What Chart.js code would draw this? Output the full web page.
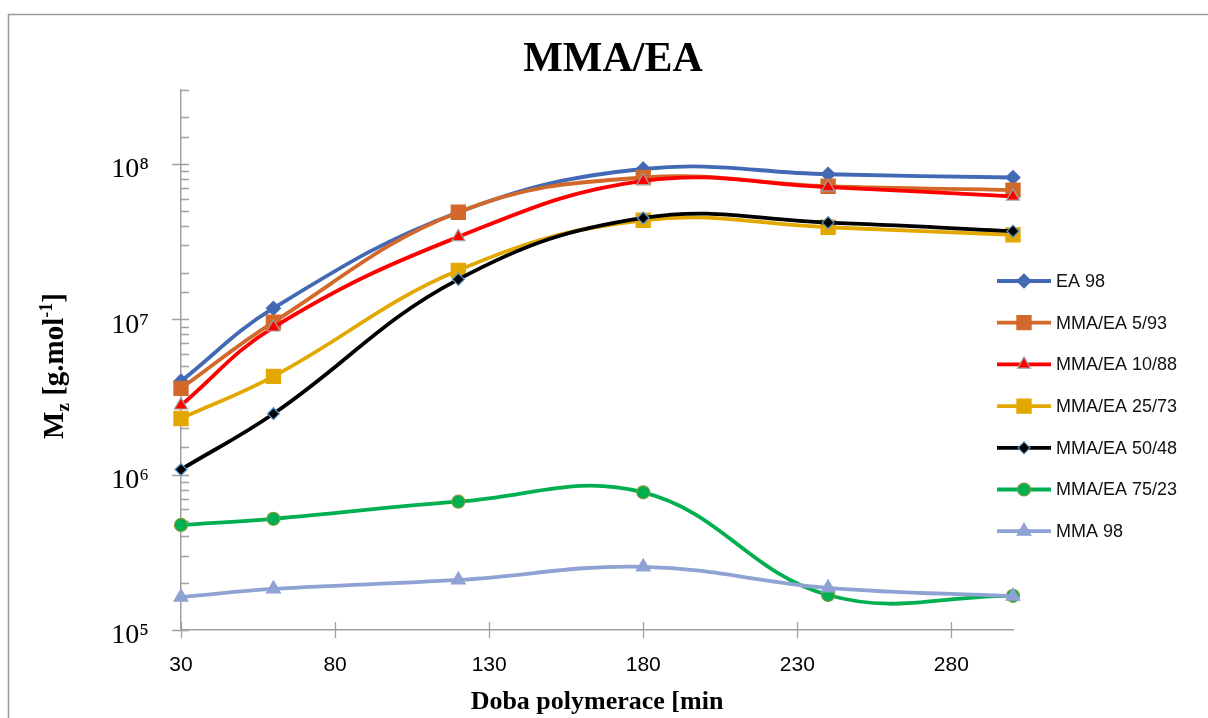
<!DOCTYPE html>
<html>
<head>
<meta charset="utf-8">
<script src="https://cdn.jsdelivr.net/npm/chart.js@4.4.0/dist/chart.umd.min.js"></script>
<style>
  html, body { margin: 0; padding: 0; background: #fff; }
  #wrap { width: 1208px; height: 718px; position: relative; }
</style>
</head>
<body>
<div id="wrap"><canvas id="grafico" width="1208" height="718"></canvas></div>
<script>
// Datos (Mz en g/mol)
const tiempos = [30, 60, 120, 180, 240, 300];
const ticksX = [30, 80, 130, 180, 230, 280];
const series = ['EA 98', 'MMA/EA 5/93', 'MMA/EA 10/88', 'MMA/EA 25/73', 'MMA/EA 50/48', 'MMA/EA 75/23', 'MMA 98'];
const ea98 = [4.0e6, 1.18e7, 4.9e7, 9.3e7, 8.6e7, 8.2e7];
const mmaEa5_93 = [3.6e6, 9.6e6, 4.9e7, 8.2e7, 7.2e7, 6.8e7];
const mmaEa10_88 = [2.8e6, 8.9e6, 3.4e7, 7.8e7, 7.1e7, 6.2e7];
const mmaEa25_73 = [2.3e6, 4.3e6, 2.07e7, 4.35e7, 3.92e7, 3.5e7];
const mmaEa50_48 = [1.08e6, 2.47e6, 1.81e7, 4.5e7, 4.2e7, 3.7e7];
const mmaEa75_23 = [4.75e5, 5.2e5, 6.7e5, 7.7e5, 1.68e5, 1.66e5];
const mma98 = [1.63e5, 1.84e5, 2.1e5, 2.55e5, 1.87e5, 1.65e5];

const valores = [ea98, mmaEa5_93, mmaEa10_88, mmaEa25_73, mmaEa50_48, mmaEa75_23, mma98];

// Estilo de cada serie
const estilos = [
  { color: '#4169B4', fondo: '#4169B4', borde: '#4169B4', punto: 'rectRot', radio: 7 },
  { color: '#D2692B', fondo: '#D2692B', borde: '#D2692B', punto: 'rect', radio: 10 },
  { color: '#FF0000', fondo: '#FF0000', borde: '#A0A0A0', punto: 'triangle', radio: 7.5 },
  { color: '#E3A800', fondo: '#E3A800', borde: '#E3A800', punto: 'rect', radio: 10 },
  { color: '#000000', fondo: '#000000', borde: '#5B9BD5', punto: 'rectRot', radio: 6 },
  { color: '#00B050', fondo: '#00B050', borde: '#7F9A3A', punto: 'circle', radio: 6.5 },
  { color: '#8FA2D4', fondo: '#8FA2D4', borde: '#8FA2D4', punto: 'triangle', radio: 8 }
];

const superindices = { '0': '\u2070', '1': '\u00B9', '2': '\u00B2', '3': '\u00B3', '4': '\u2074', '5': '\u2075', '6': '\u2076', '7': '\u2077', '8': '\u2078', '9': '\u2079' };

const datasets = series.map((nombre, i) => ({
  label: nombre,
  data: tiempos.map((t, j) => ({ x: t, y: valores[i][j] })),
  borderColor: estilos[i].color,
  borderWidth: 3.8,
  backgroundColor: estilos[i].fondo,
  pointStyle: estilos[i].punto,
  pointRadius: estilos[i].radio,
  pointBackgroundColor: estilos[i].fondo,
  pointBorderColor: estilos[i].borde,
  pointBorderWidth: 1.2,
  tension: 0.4,
  fill: false,
  clip: false,
  order: series.length - i
}));

// Marco exterior y titulo principal
const marco = {
  id: 'marco',
  beforeDraw(chart) {
    const ctx = chart.ctx;
    ctx.save();
    ctx.fillStyle = '#ffffff';
    ctx.fillRect(0, 0, chart.width, chart.height);
    ctx.strokeStyle = '#9a9a9a';
    ctx.lineWidth = 1.5;
    ctx.strokeRect(8.5, 14.5, 1400, 900);
    ctx.fillStyle = '#000';
    ctx.font = 'bold 42px "Liberation Serif", "Times New Roman", serif';
    ctx.textAlign = 'center';
    ctx.textBaseline = 'middle';
    ctx.fillText('MMA/EA', 613, 60);
    ctx.restore();
  }
};

// Marcas de los ejes (las mayores cruzan el eje)
const marcas = {
  id: 'marcas',
  beforeDatasetsDraw(chart) {
    const ctx = chart.ctx;
    const ejeY = chart.scales.y;
    const ejeX = chart.scales.x;
    const x0 = chart.chartArea.left;
    const y0 = chart.chartArea.bottom;
    ctx.save();
    ctx.strokeStyle = '#a0a0a0';
    ctx.lineWidth = 1.3;
    ctx.beginPath();
    ejeY.ticks.forEach(t => {
      const y = Math.round(ejeY.getPixelForValue(t.value)) + 0.5;
      const exp = Math.log10(t.value);
      const mayor = Math.abs(exp - Math.round(exp)) < 1e-9;
      ctx.moveTo(mayor ? x0 - 9 : x0, y);
      ctx.lineTo(x0 + 8, y);
    });
    ticksX.forEach(v => {
      const x = Math.round(ejeX.getPixelForValue(v)) + 0.5;
      ctx.moveTo(x, y0 - 8);
      ctx.lineTo(x, y0 + 8);
    });
    ctx.stroke();
    ctx.restore();
  }
};

// Titulo del eje Y con subindice y superindice
const tituloY = {
  id: 'tituloY',
  afterDraw(chart) {
    const ctx = chart.ctx;
    const partes = [
      { t: 'M', size: 29, dy: 0 },
      { t: 'z', size: 19, dy: 6 },
      { t: ' [g.mol', size: 29, dy: 0 },
      { t: '-1', size: 18, dy: -11 },
      { t: ']', size: 29, dy: 0 }
    ];
    ctx.save();
    ctx.fillStyle = '#000';
    ctx.textBaseline = 'alphabetic';
    let total = 0;
    partes.forEach(p => {
      ctx.font = `bold ${p.size}px "Liberation Serif", "Times New Roman", serif`;
      p.w = ctx.measureText(p.t).width;
      total += p.w;
    });
    ctx.translate(63, 366);
    ctx.rotate(-Math.PI / 2);
    let x = -total / 2;
    partes.forEach(p => {
      ctx.font = `bold ${p.size}px "Liberation Serif", "Times New Roman", serif`;
      ctx.fillText(p.t, x, p.dy);
      x += p.w;
    });
    ctx.restore();
  }
};

function dibujarMarcador(ctx, estilo, x, y, r) {
  ctx.beginPath();
  if (estilo === 'circle') {
    ctx.arc(x, y, r, 0, Math.PI * 2);
  } else if (estilo === 'rect') {
    const s = r * Math.SQRT1_2;
    ctx.rect(x - s, y - s, 2 * s, 2 * s);
  } else if (estilo === 'rectRot') {
    ctx.moveTo(x - r, y);
    ctx.lineTo(x, y - r);
    ctx.lineTo(x + r, y);
    ctx.lineTo(x, y + r);
    ctx.closePath();
  } else if (estilo === 'triangle') {
    ctx.moveTo(x, y - r);
    ctx.lineTo(x + r * 0.866, y + r / 2);
    ctx.lineTo(x - r * 0.866, y + r / 2);
    ctx.closePath();
  }
  ctx.fill();
  ctx.stroke();
}

// Leyenda a la derecha: linea con marcador y texto
const leyenda = {
  id: 'leyenda',
  afterDraw(chart) {
    const ctx = chart.ctx;
    const xIni = 997, xFin = 1051, xTexto = 1056;
    const yIni = 281, paso = 41.7;
    ctx.save();
    chart.data.datasets.forEach((ds, i) => {
      const y = yIni + i * paso;
      const e = estilos[i];
      ctx.strokeStyle = e.color;
      ctx.lineWidth = 3.8;
      ctx.beginPath();
      ctx.moveTo(xIni, y);
      ctx.lineTo(xFin, y);
      ctx.stroke();
      ctx.fillStyle = e.fondo;
      ctx.strokeStyle = e.borde;
      ctx.lineWidth = 1.2;
      dibujarMarcador(ctx, e.punto, (xIni + xFin) / 2, y, e.radio);
      ctx.fillStyle = '#111';
      ctx.font = '18px "Liberation Sans", Arial, sans-serif';
      ctx.textAlign = 'left';
      ctx.textBaseline = 'middle';
      ctx.fillText(ds.label, xTexto, y + 1);
    });
    ctx.restore();
  }
};

new Chart(document.getElementById('grafico'), {
  type: 'line',
  data: { datasets: datasets },
  options: {
    responsive: false,
    animation: false,
    devicePixelRatio: 1,
    layout: { padding: { left: 0, right: 195, top: 90, bottom: 0 } },
    plugins: {
      legend: { display: false },
      tooltip: { enabled: false },
      title: { display: false }
    },
    scales: {
      x: {
        type: 'linear',
        min: 30,
        max: 300,
        afterBuildTicks: s => { s.ticks = ticksX.map(v => ({ value: v })); },
        afterFit: s => { s.height = 88; },
        grid: { display: false, drawTicks: false },
        border: { display: true, color: '#a0a0a0', width: 1.5 },
        ticks: {
          color: '#000',
          padding: 23,
          font: { family: '"Liberation Sans", Arial, sans-serif', size: 21 },
          maxRotation: 0,
          autoSkip: false
        },
        title: {
          display: true,
          text: 'Doba polymerace [min',
          color: '#000',
          font: { family: '"Liberation Serif", "Times New Roman", serif', size: 26, weight: 'bold' },
          padding: { top: 0, bottom: 0 }
        }
      },
      y: {
        type: 'logarithmic',
        min: 1e5,
        max: 3e8,
        afterFit: s => { s.width = 181; },
        grid: { display: false, drawTicks: false },
        border: { display: true, color: '#a0a0a0', width: 1.5 },
        ticks: {
          color: '#000',
          padding: 32,
          autoSkip: false,
          labelOffset: 6,
          font: { family: '"Liberation Serif", "Times New Roman", serif', size: 28 },
          callback: v => {
            const exp = Math.log10(v);
            if (Math.abs(exp - Math.round(exp)) > 1e-9) return '';
            return '10' + String(Math.round(exp)).split('').map(d => superindices[d]).join('');
          }
        }
      }
    }
  },
  plugins: [marco, marcas, tituloY, leyenda]
});
</script>
</body>
</html>
